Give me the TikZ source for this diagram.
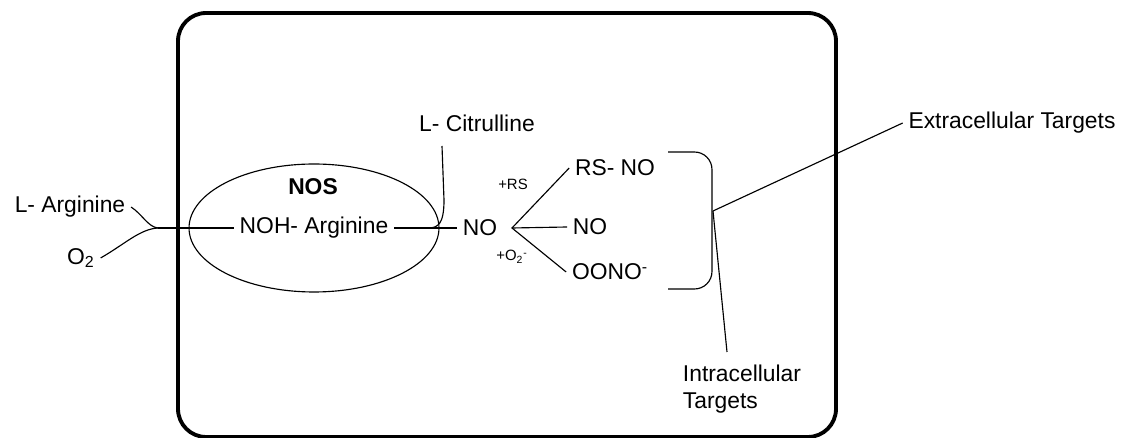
\documentclass[tikz,border=0pt]{standalone}
\usepackage{fontspec}
\setmainfont{Liberation Sans}
\usetikzlibrary{shapes.geometric}

\begin{document}
\begin{tikzpicture}[x=0.02cm,y=-0.02cm,line width=0.65pt,
    lbl/.style={font=\fontsize{13}{15}\selectfont,inner sep=3pt},
    small lbl/.style={font=\fontsize{8.5}{10}\selectfont,inner sep=0pt}]
  \useasboundingbox (0,0) rectangle (1123,438);
  \draw[line width=2.2pt,rounded corners=16pt] (178,13) rectangle (836,437);
  \node[draw,ellipse,minimum width=5cm,minimum height=2.56cm] (nos) at (314,228) {};
  \node[lbl,font=\fontsize{13}{15}\selectfont\bfseries] (nostxt) at (313,187) {NOS};
  \node[lbl] (noh) at (314,228) {NOH- Arginine};
  \node[lbl] (larg) at (70,207) {L- Arginine};
  \node[lbl] (oxy) at (81,258) {O\textsubscript{2}};
  \node[lbl] (cit) at (477,123) {L- Citrulline};
  \node[lbl] (no) at (480,228) {NO};
  \node[small lbl] (rs) at (513,184) {+RS};
  \node[small lbl] (oxm) at (512,257) {+O\textsubscript{2}\textsuperscript{-}};
  \node[lbl] (rsno) at (615,168) {RS- NO};
  \node[lbl] (nofree) at (590,227) {NO};
  \node[lbl] (oono) at (610,272) {OONO\textsuperscript{-}};
  \node[lbl] (extra) at (1012,123) {Extracellular Targets};
  \node[lbl,align=left] (intra) at (742,389) {Intracellular\\Targets};
  % substrates into the enzyme
  \coordinate (jn) at (158,228);
  \draw (larg.east) .. controls (142,214) and (148,227) .. (jn);
  \draw (oxy.east) .. controls (125,244) and (140,229) .. (jn);
  \draw (jn) -- (noh.west);
  \draw (noh.east) -- (no.west);
  \coordinate (cittop) at (442,146);
  \draw (cittop) -- (444,200) .. controls (444,224) and (438,228) .. (428,228);
  % products of NO
  \coordinate (br) at (512,228);
  \draw (rsno.west) -- (br) -- (oono.west);
  \draw (br) -- (nofree.west);
  % targets
  \draw[rounded corners=10pt] (668,152) -- (712,152) -- (712,289) -- (668,289);
  \coordinate (bmid) at (713,211);
  \coordinate (intratop) at (727,352);
  \draw (bmid) -- (extra.west);
  \draw (bmid) -- (intratop);
\end{tikzpicture}
\end{document}
